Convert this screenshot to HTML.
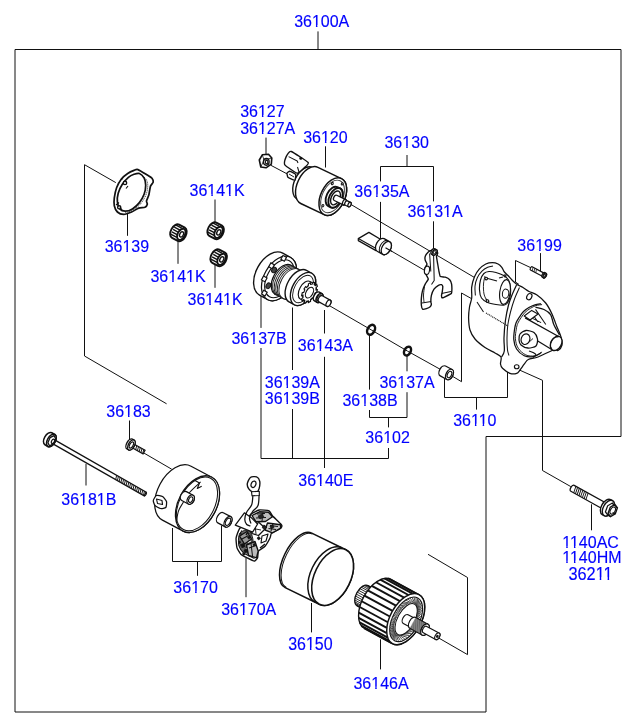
<!DOCTYPE html>
<html><head><meta charset="utf-8"><style>
html,body{margin:0;padding:0;background:#fff;}
svg{display:block;}
text{font-family:"Liberation Sans",sans-serif;font-size:16px;fill:#0000ff;stroke:#0000ff;stroke-width:0.15px;}

</style></head><body>
<svg width="636" height="727" viewBox="0 0 636 727">
<rect width="636" height="727" fill="#fff"/>

<path d="M15,49.5 H621 V436.5 H486 V712 H15 Z" fill="none" stroke="#111" stroke-width="1"/>
<g fill="none" stroke="#111" stroke-width="1">
<polyline points="318,31.4 318,49.5"/>
<polyline points="266,137.6 266,155"/>
<polyline points="325.5,146.3 325.5,167.5"/>
<polyline points="407,155 407,166.5"/>
<polyline points="380.5,181.4 380.5,166.5 433.5,166.5 433.5,201.4"/>
<polyline points="380.5,201.9 380.5,239.3"/>
<polyline points="433.5,221.3 433.5,250.7"/>
<polyline points="215,199.5 215,222"/>
<polyline points="127.5,214 127.5,235.8"/>
<polyline points="178,240.6 178,263.8"/>
<polyline points="215,264.6 215,287.8"/>
<polyline points="540.5,253.1 540.5,271"/>
<polyline points="115.8,182.6 84.5,164.7 84.5,356 166.6,403.8"/>
<polyline points="129.5,420.5 129.5,440.3"/>
<polyline points="86,463.9 86,485.5"/>
<polyline points="261,293 261,327.9"/>
<polyline points="261,348 261,458.5 388.5,458.5 388.5,448"/>
<polyline points="292.5,307.5 292.5,370"/>
<polyline points="292.5,409 292.5,458.5"/>
<polyline points="324.5,310 324.5,333.5"/>
<polyline points="324.5,356.8 324.5,468"/>
<polyline points="369.5,335 369.5,389.6"/>
<polyline points="369.5,410 369.5,417.5 407,417.5 407,392.2"/>
<polyline points="407,355 407,371.3"/>
<polyline points="388.5,417.5 388.5,427.4"/>
<polyline points="444.5,378 444.5,397.5 507.5,397.5 507.5,367.7"/>
<polyline points="476.5,397.5 476.5,409.6"/>
<polyline points="515.8,368.4 542.5,380.3 542.5,470.5 570.8,486.6"/>
<polyline points="591.5,504.3 591.5,530.3"/>
<polyline points="172.5,528 172.5,561.5 221.5,561.5 221.5,525.5"/>
<polyline points="197.5,561.5 197.5,575.8"/>
<polyline points="246,558 246,597.2"/>
<polyline points="311.5,603 311.5,632.4"/>
<polyline points="380.5,639.3 380.5,669.4"/>
<polyline points="270.7,165.2 287.3,174"/>
<polyline points="351,204.5 474.5,277.5"/>
<polyline points="386.3,248.1 424,270"/>
<polyline points="330,306 371.1,329.8 407.5,351.1 449,374.2 461.5,381.7 461.5,293 472.5,299.2"/>
<polyline points="532.5,268.5 515.5,260.5 515.5,282 519,284.5"/>
<polyline points="142.8,452.4 171.7,469.2"/>
<polyline points="437,637 467.5,654.6 467.5,577.5 428,554.3"/>
</g>
<g transform="translate(332.60,577.00) rotate(26.00)" ><path d="M-38,-30.3 L0,-30.3 A18.0,30.3 0 0 1 0,30.3 L-38,30.3 A15.0,30.3 0 0 1 -38,-30.3 Z" fill="#fff" stroke="#111" stroke-width="1.55"/><ellipse cx="0" cy="0" rx="18.0" ry="30.3" fill="#fff" stroke="#111" stroke-width="1.55"/><path d="M-37,-29.7 A14.2,29.7 0 0 0 -37,29.7" fill="none" stroke="#111" stroke-width="0.92"/><path d="M-4.3,-30.3 A18.0,30.3 0 0 0 -4.3,30.3" fill="none" stroke="#111" stroke-width="1.49"/></g>
<g transform="translate(197.50,504.20) rotate(28.00)" ><path d="M-23.5,-30.5 L0,-30.5 A19.0,30.5 0 0 1 0,30.5 L-23.5,30.5 A19.0,30.5 0 0 1 -23.5,-30.5 Z" fill="#fff" stroke="#111" stroke-width="1.26"/><ellipse cx="0" cy="0" rx="19.0" ry="30.5" fill="#fff" stroke="#111" stroke-width="1.26"/><ellipse cx="-0.6" cy="0" rx="17.5" ry="29.0" fill="none" stroke="#111" stroke-width="1.03"/></g>
<path d="M176.40,521.50 C176.75,519.75 177.40,514.12 178.50,511.00 C179.60,507.88 181.08,505.97 183.00,502.80 C184.92,499.63 187.07,495.48 190.00,492.00 C192.93,488.52 198.83,483.58 200.60,481.90" fill="none" stroke="#111" stroke-width="1.03" stroke-linejoin="round" />
<path d="M195,480.5 L199.5,483 L197.3,488.5 L201.7,486.3" fill="none" stroke="#111" stroke-width="1.15" stroke-linejoin="round" />
<g transform="translate(190.70,499.60) rotate(28.00)" ><path d="M-7.5,-5.0 L0,-5.0 A3.3,5.0 0 0 1 0,5.0 L-7.5,5.0 A3.3,5.0 0 0 1 -7.5,-5.0 Z" fill="#fff" stroke="#111" stroke-width="1.26"/><ellipse cx="0" cy="0" rx="3.3" ry="5.0" fill="#fff" stroke="#111" stroke-width="1.26"/><ellipse cx="0" cy="0" rx="1.9" ry="3.0" fill="none" stroke="#111" stroke-width="1.15"/></g>
<path d="M153.30,500.50 C153.45,499.50 155.58,495.90 156.50,495.50 C157.42,495.10 161.50,495.90 162.50,496.50 C163.50,497.10 166.17,500.40 166.50,501.50 C166.83,502.60 166.40,506.80 165.80,507.50 C165.20,508.20 161.58,508.70 160.50,508.50 C159.42,508.30 155.72,506.30 155.00,505.50 C154.28,504.70 153.15,501.50 153.30,500.50 Z" fill="#fff" stroke="#111" stroke-width="1.26" stroke-linejoin="round" />
<path d="M156.5,499 L162,500.5 L162.5,504.5 L157.5,503.5 Z" fill="none" stroke="#111" stroke-width="1.15" stroke-linejoin="round" />
<g transform="translate(228.00,521.80) rotate(28.00)" ><path d="M-8.5,-5.8 L0,-5.8 A3.4,5.8 0 0 1 0,5.8 L-8.5,5.8 A3.4,5.8 0 0 1 -8.5,-5.8 Z" fill="#fff" stroke="#111" stroke-width="1.26"/><ellipse cx="0" cy="0" rx="3.4" ry="5.8" fill="#fff" stroke="#111" stroke-width="1.26"/><ellipse cx="0" cy="0" rx="2.2" ry="3.9" fill="none" stroke="#111" stroke-width="1.15"/></g>
<g transform="translate(405.70,619.10) rotate(28.50)" ><g transform="translate(-28,0)"><path d="M-21,-11.5 L0,-11.5 A6.5,11.5 0 0 1 0,11.5 L-21,11.5 A6.5,11.5 0 0 1 -21,-11.5 Z" fill="#fff" stroke="#111" stroke-width="1.26"/><line x1="-22.1" y1="-11.3" x2="-1" y2="-11.3" stroke="#111" stroke-width="0.80"/><line x1="-23.3" y1="-10.7" x2="-1" y2="-10.7" stroke="#111" stroke-width="0.80"/><line x1="-24.4" y1="-9.8" x2="-1" y2="-9.8" stroke="#111" stroke-width="0.80"/><line x1="-25.4" y1="-8.4" x2="-1" y2="-8.4" stroke="#111" stroke-width="0.80"/><line x1="-26.3" y1="-6.8" x2="-1" y2="-6.8" stroke="#111" stroke-width="0.80"/><line x1="-26.9" y1="-4.9" x2="-1" y2="-4.9" stroke="#111" stroke-width="0.80"/><line x1="-27.3" y1="-2.8" x2="-1" y2="-2.8" stroke="#111" stroke-width="0.80"/><line x1="-27.5" y1="-0.6" x2="-1" y2="-0.6" stroke="#111" stroke-width="0.80"/><line x1="-27.4" y1="1.6" x2="-1" y2="1.6" stroke="#111" stroke-width="0.80"/><line x1="-27.1" y1="3.7" x2="-1" y2="3.7" stroke="#111" stroke-width="0.80"/><line x1="-26.6" y1="5.7" x2="-1" y2="5.7" stroke="#111" stroke-width="0.80"/><line x1="-25.9" y1="7.5" x2="-1" y2="7.5" stroke="#111" stroke-width="0.80"/><line x1="-25.0" y1="9.1" x2="-1" y2="9.1" stroke="#111" stroke-width="0.80"/><line x1="-24.0" y1="10.2" x2="-1" y2="10.2" stroke="#111" stroke-width="0.80"/><line x1="-22.8" y1="11.1" x2="-1" y2="11.1" stroke="#111" stroke-width="0.80"/><line x1="-21.6" y1="11.5" x2="-1" y2="11.5" stroke="#111" stroke-width="0.80"/></g><path d="M-32,-27.8 L0,-27.8 A15.5,27.8 0 0 1 0,27.8 L-32,27.8 A15.5,27.8 0 0 1 -32,-27.8 Z" fill="#fff" stroke="#111" stroke-width="1.38"/><line x1="-34.7" y1="-27.4" x2="-2.7" y2="-27.4" stroke="#111" stroke-width="1.95"/><line x1="-38.1" y1="-25.6" x2="-6.1" y2="-25.6" stroke="#111" stroke-width="1.95"/><line x1="-41.1" y1="-22.5" x2="-9.1" y2="-22.5" stroke="#111" stroke-width="1.95"/><line x1="-43.7" y1="-18.2" x2="-11.7" y2="-18.2" stroke="#111" stroke-width="1.95"/><line x1="-45.7" y1="-13.1" x2="-13.7" y2="-13.1" stroke="#111" stroke-width="1.95"/><line x1="-47.0" y1="-7.2" x2="-15.0" y2="-7.2" stroke="#111" stroke-width="1.95"/><line x1="-47.5" y1="-1.0" x2="-15.5" y2="-1.0" stroke="#111" stroke-width="1.95"/><line x1="-47.2" y1="5.3" x2="-15.2" y2="5.3" stroke="#111" stroke-width="1.95"/><line x1="-46.2" y1="11.3" x2="-14.2" y2="11.3" stroke="#111" stroke-width="1.95"/><line x1="-44.4" y1="16.7" x2="-12.4" y2="16.7" stroke="#111" stroke-width="1.95"/><line x1="-42.0" y1="21.3" x2="-10.0" y2="21.3" stroke="#111" stroke-width="1.95"/><line x1="-39.0" y1="24.8" x2="-7.0" y2="24.8" stroke="#111" stroke-width="1.95"/><line x1="-35.7" y1="27.0" x2="-3.7" y2="27.0" stroke="#111" stroke-width="1.95"/><line x1="-32.3" y1="27.8" x2="-0.3" y2="27.8" stroke="#111" stroke-width="1.95"/><ellipse cx="0" cy="0" rx="15.5" ry="27.8" fill="#fff" stroke="#111" stroke-width="1.49"/><ellipse cx="0.5" cy="0" rx="13.2" ry="24.3" fill="#fff" stroke="#111" stroke-width="1.15"/><line x1="12.9" y1="0.0" x2="7.9" y2="8.5" stroke="#333" stroke-width="0.80"/><line x1="12.8" y1="3.3" x2="7.2" y2="10.6" stroke="#333" stroke-width="0.80"/><line x1="12.4" y1="6.6" x2="6.4" y2="12.5" stroke="#333" stroke-width="0.80"/><line x1="11.8" y1="9.7" x2="5.5" y2="14.1" stroke="#333" stroke-width="0.80"/><line x1="10.9" y1="12.7" x2="4.4" y2="15.5" stroke="#333" stroke-width="0.80"/><line x1="9.9" y1="15.4" x2="3.3" y2="16.6" stroke="#333" stroke-width="0.80"/><line x1="8.6" y1="17.8" x2="2.1" y2="17.3" stroke="#333" stroke-width="0.80"/><line x1="7.2" y1="19.8" x2="0.8" y2="17.7" stroke="#333" stroke-width="0.80"/><line x1="5.7" y1="21.5" x2="-0.4" y2="17.8" stroke="#333" stroke-width="0.80"/><line x1="4.0" y1="22.7" x2="-1.7" y2="17.5" stroke="#333" stroke-width="0.80"/><line x1="2.2" y1="23.5" x2="-2.9" y2="16.9" stroke="#333" stroke-width="0.80"/><line x1="0.5" y1="23.9" x2="-4.0" y2="15.9" stroke="#333" stroke-width="0.80"/><line x1="-1.3" y1="23.8" x2="-5.1" y2="14.6" stroke="#333" stroke-width="0.80"/><line x1="-3.1" y1="23.2" x2="-6.1" y2="13.1" stroke="#333" stroke-width="0.80"/><line x1="-4.8" y1="22.2" x2="-7.0" y2="11.3" stroke="#333" stroke-width="0.80"/><line x1="-6.4" y1="20.7" x2="-7.7" y2="9.3" stroke="#333" stroke-width="0.80"/><line x1="-7.9" y1="18.8" x2="-8.3" y2="7.1" stroke="#333" stroke-width="0.80"/><line x1="-9.3" y1="16.6" x2="-8.7" y2="4.7" stroke="#333" stroke-width="0.80"/><line x1="-10.4" y1="14.0" x2="-8.9" y2="2.3" stroke="#333" stroke-width="0.80"/><line x1="-11.4" y1="11.2" x2="-9.0" y2="-0.2" stroke="#333" stroke-width="0.80"/><line x1="-12.1" y1="8.2" x2="-8.9" y2="-2.7" stroke="#333" stroke-width="0.80"/><line x1="-12.6" y1="5.0" x2="-8.6" y2="-5.1" stroke="#333" stroke-width="0.80"/><line x1="-12.9" y1="1.7" x2="-8.2" y2="-7.4" stroke="#333" stroke-width="0.80"/><line x1="-12.9" y1="-1.7" x2="-7.6" y2="-9.6" stroke="#333" stroke-width="0.80"/><line x1="-12.6" y1="-5.0" x2="-6.8" y2="-11.6" stroke="#333" stroke-width="0.80"/><line x1="-12.1" y1="-8.2" x2="-5.9" y2="-13.4" stroke="#333" stroke-width="0.80"/><line x1="-11.4" y1="-11.2" x2="-4.9" y2="-14.9" stroke="#333" stroke-width="0.80"/><line x1="-10.4" y1="-14.0" x2="-3.9" y2="-16.1" stroke="#333" stroke-width="0.80"/><line x1="-9.3" y1="-16.6" x2="-2.7" y2="-17.0" stroke="#333" stroke-width="0.80"/><line x1="-7.9" y1="-18.8" x2="-1.5" y2="-17.6" stroke="#333" stroke-width="0.80"/><line x1="-6.5" y1="-20.7" x2="-0.2" y2="-17.8" stroke="#333" stroke-width="0.80"/><line x1="-4.8" y1="-22.2" x2="1.0" y2="-17.7" stroke="#333" stroke-width="0.80"/><line x1="-3.1" y1="-23.2" x2="2.3" y2="-17.2" stroke="#333" stroke-width="0.80"/><line x1="-1.3" y1="-23.8" x2="3.5" y2="-16.4" stroke="#333" stroke-width="0.80"/><line x1="0.5" y1="-23.9" x2="4.6" y2="-15.3" stroke="#333" stroke-width="0.80"/><line x1="2.2" y1="-23.5" x2="5.6" y2="-13.9" stroke="#333" stroke-width="0.80"/><line x1="4.0" y1="-22.7" x2="6.5" y2="-12.2" stroke="#333" stroke-width="0.80"/><line x1="5.7" y1="-21.5" x2="7.3" y2="-10.3" stroke="#333" stroke-width="0.80"/><line x1="7.2" y1="-19.8" x2="8.0" y2="-8.2" stroke="#333" stroke-width="0.80"/><line x1="8.6" y1="-17.8" x2="8.5" y2="-5.9" stroke="#333" stroke-width="0.80"/><line x1="9.9" y1="-15.4" x2="8.8" y2="-3.5" stroke="#333" stroke-width="0.80"/><line x1="10.9" y1="-12.7" x2="9.0" y2="-1.0" stroke="#333" stroke-width="0.80"/><line x1="11.8" y1="-9.7" x2="9.0" y2="1.4" stroke="#333" stroke-width="0.80"/><line x1="12.4" y1="-6.6" x2="8.8" y2="3.9" stroke="#333" stroke-width="0.80"/><line x1="12.8" y1="-3.3" x2="8.4" y2="6.3" stroke="#333" stroke-width="0.80"/><ellipse cx="0.5" cy="0" rx="8.5" ry="17.3" fill="#fff" stroke="#111" stroke-width="1.03"/><g transform="translate(8,0)"><path d="M-8,-5 L0,-5 A3.0,5 0 0 1 0,5 L-8,5 A3.0,5 0 0 1 -8,-5 Z" fill="#fff" stroke="#111" stroke-width="1.15"/><ellipse cx="0" cy="0" rx="3.0" ry="5" fill="#fff" stroke="#111" stroke-width="1.15"/></g><g transform="translate(22,0)"><path d="M-14,-6.2 L0,-6.2 A3.6,6.2 0 0 1 0,6.2 L-14,6.2 A3.6,6.2 0 0 1 -14,-6.2 Z" fill="#fff" stroke="#111" stroke-width="1.15"/><ellipse cx="0" cy="0" rx="3.6" ry="6.2" fill="#fff" stroke="#111" stroke-width="1.15"/><line x1="-14" y1="-5.4" x2="0" y2="-5.4" stroke="#222" stroke-width="0.63"/><line x1="-14" y1="-4.5" x2="0" y2="-4.5" stroke="#222" stroke-width="0.63"/><line x1="-14" y1="-3.6" x2="0" y2="-3.6" stroke="#222" stroke-width="0.63"/><line x1="-14" y1="-2.7" x2="0" y2="-2.7" stroke="#222" stroke-width="0.63"/><line x1="-14" y1="-1.8" x2="0" y2="-1.8" stroke="#222" stroke-width="0.63"/><line x1="-14" y1="-0.9" x2="0" y2="-0.9" stroke="#222" stroke-width="0.63"/><line x1="-14" y1="0.0" x2="0" y2="0.0" stroke="#222" stroke-width="0.63"/><line x1="-14" y1="0.9" x2="0" y2="0.9" stroke="#222" stroke-width="0.63"/><line x1="-14" y1="1.8" x2="0" y2="1.8" stroke="#222" stroke-width="0.63"/><line x1="-14" y1="2.7" x2="0" y2="2.7" stroke="#222" stroke-width="0.63"/><line x1="-14" y1="3.6" x2="0" y2="3.6" stroke="#222" stroke-width="0.63"/><line x1="-14" y1="4.5" x2="0" y2="4.5" stroke="#222" stroke-width="0.63"/><line x1="-14" y1="5.4" x2="0" y2="5.4" stroke="#222" stroke-width="0.63"/><ellipse cx="0" cy="0" rx="3.6" ry="6.2" fill="#fff" stroke="#111" stroke-width="1.15"/></g><g transform="translate(36,0)"><path d="M-14,-3.6 L0,-3.6 A2.2,3.6 0 0 1 0,3.6 L-14,3.6 A2.2,3.6 0 0 1 -14,-3.6 Z" fill="#fff" stroke="#111" stroke-width="1.15"/><ellipse cx="0" cy="0" rx="2.2" ry="3.6" fill="#fff" stroke="#111" stroke-width="1.15"/><ellipse cx="0" cy="0" rx="0.7" ry="1.0" fill="#111" stroke="#111" stroke-width="1.15"/></g></g>
<g transform="translate(332.80,196.60) rotate(25.50)" ><g transform="translate(-26,0)"><path d="M-5,-17.5 L0,-17.5 A10.5,17.5 0 0 1 0,17.5 L-5,17.5 A10.5,17.5 0 0 1 -5,-17.5 Z" fill="#fff" stroke="#111" stroke-width="1.38"/><ellipse cx="0" cy="0" rx="10.5" ry="17.5" fill="#fff" stroke="#111" stroke-width="1.38"/></g><path d="M-26,-20 L0,-20 A12,20 0 0 1 0,20 L-26,20 A12,20 0 0 1 -26,-20 Z" fill="#fff" stroke="#111" stroke-width="1.49"/><ellipse cx="0" cy="0" rx="12" ry="20" fill="#fff" stroke="#111" stroke-width="1.49"/><ellipse cx="-0.3" cy="0" rx="10.2" ry="17.4" fill="none" stroke="#333" stroke-width="0.92"/><g transform="translate(3,0)"><path d="M-3,-10.5 L0,-10.5 A6.2,10.5 0 0 1 0,10.5 L-3,10.5 A6.2,10.5 0 0 1 -3,-10.5 Z" fill="#fff" stroke="#111" stroke-width="1.84"/><ellipse cx="0" cy="0" rx="6.2" ry="10.5" fill="#fff" stroke="#111" stroke-width="1.84"/><ellipse cx="0" cy="0" rx="4.2" ry="7.4" fill="none" stroke="#111" stroke-width="1.38"/></g><ellipse cx="-6" cy="-11.5" rx="0.9" ry="1.2" fill="#fff" stroke="#111" stroke-width="1.03"/><ellipse cx="-5" cy="12.5" rx="0.9" ry="1.2" fill="#fff" stroke="#111" stroke-width="1.03"/><ellipse cx="3" cy="-15.5" rx="0.9" ry="1.2" fill="#fff" stroke="#111" stroke-width="1.03"/><g transform="translate(13,0)"><path d="M-10,-2.9 L0,-2.9 A1.8,2.9 0 0 1 0,2.9 L-10,2.9 A1.8,2.9 0 0 1 -10,-2.9 Z" fill="#fff" stroke="#111" stroke-width="1.26"/><ellipse cx="0" cy="0" rx="1.8" ry="2.9" fill="#fff" stroke="#111" stroke-width="1.26"/></g><g transform="translate(18.5,0)"><path d="M-3.5,-2.4 L0,-2.4 A1.4,2.4 0 0 1 0,2.4 L-3.5,2.4 A1.4,2.4 0 0 1 -3.5,-2.4 Z" fill="#fff" stroke="#111" stroke-width="1.26"/><ellipse cx="0" cy="0" rx="1.4" ry="2.4" fill="#fff" stroke="#111" stroke-width="1.26"/></g></g>
<path d="M287.80,153.90 C288.23,153.47 289.60,150.78 291.30,151.50 C293.00,152.22 307.14,161.12 308.20,162.50 C309.26,163.88 304.92,167.11 304.00,168.00 C303.08,168.89 298.65,173.32 297.20,173.20 C295.75,173.07 287.65,167.22 286.60,166.50 C285.55,165.78 284.77,164.93 284.60,164.50 C284.43,164.07 284.47,162.06 284.60,161.40 C284.73,160.74 285.93,157.22 286.20,156.60 C286.47,155.97 287.38,154.33 287.80,153.90 Z" fill="#fff" stroke="#111" stroke-width="1.38" stroke-linejoin="round" />
<path d="M288.6,156.6 L297.2,161 L298,163 M297.5,167 L299,172" fill="none" stroke="#111" stroke-width="1.03" stroke-linejoin="round" />
<ellipse cx="300.8" cy="158.2" rx="1.0" ry="1.0" fill="#111" stroke="#111" stroke-width="1.15"/>
<path d="M287.00,173.20 C287.13,172.81 289.22,171.13 289.80,171.20 C290.38,171.27 295.36,173.70 295.70,174.30 C296.04,174.90 295.25,179.91 294.90,180.20 C294.55,180.49 290.97,178.91 290.50,178.70 C290.03,178.49 288.03,177.47 287.80,177.10 C287.57,176.73 286.87,173.59 287.00,173.20 Z" fill="#fff" stroke="#111" stroke-width="1.38" stroke-linejoin="round" />
<path d="M289,174 L294,177" fill="none" stroke="#111" stroke-width="0.92" stroke-linejoin="round" />
<path d="M259.3,160 L262.3,154.8 L268.5,154.3 L271.8,158 L271.3,164.2 L266,167.8 L260.8,167 Z" fill="#fff" stroke="#111" stroke-width="1.61" stroke-linejoin="round" />
<ellipse cx="266.3" cy="161.8" rx="2.8" ry="3.4" fill="none" stroke="#111" stroke-width="1.38"/>
<ellipse cx="266.6" cy="162.0" rx="1.3" ry="1.7" fill="none" stroke="#111" stroke-width="1.15"/>
<path d="M262.3,154.8 L264,160 L260.8,167 M264,160 L271.8,158" fill="none" stroke="#111" stroke-width="0.80" stroke-linejoin="round" />
<path d="M137.90,169.60 C139.45,170.15 145.66,174.10 147.30,175.10 C148.95,176.10 151.31,177.37 152.00,178.20 C152.69,179.03 153.38,181.28 153.20,182.20 C153.02,183.12 151.00,184.64 150.50,186.10 C150.00,187.56 149.37,192.96 148.90,194.70 C148.43,196.44 146.69,199.89 146.50,201.00 C146.31,202.11 147.48,203.46 147.30,204.20 C147.12,204.94 146.00,206.84 145.00,207.30 C144.00,207.76 140.26,207.55 138.70,208.10 C137.14,208.65 133.35,211.26 131.60,212.00 C129.85,212.74 125.36,214.40 123.70,214.40 C122.04,214.40 118.50,213.02 117.40,212.00 C116.30,210.98 114.66,207.34 114.30,205.70 C113.94,204.05 114.03,200.00 114.30,197.90 C114.57,195.80 115.77,189.91 116.60,187.70 C117.43,185.49 120.11,180.66 121.40,179.00 C122.70,177.34 126.23,174.50 127.70,173.50 C129.17,172.50 132.81,170.86 134.00,170.40 C135.19,169.94 136.35,169.05 137.90,169.60 Z" fill="#fff" stroke="#111" stroke-width="1.72" stroke-linejoin="round" />
<path d="M139.40,173.50 C140.93,174.09 143.25,176.43 144.20,178.20 C145.14,179.97 145.70,182.93 145.70,185.30 C145.70,187.67 145.14,191.41 144.20,194.00 C143.25,196.59 141.17,200.36 139.40,202.60 C137.63,204.84 134.52,207.61 132.40,208.90 C130.28,210.19 127.19,211.20 125.30,211.20 C123.41,211.20 120.98,210.31 119.80,208.90 C118.61,207.49 117.64,204.16 117.40,201.80 C117.16,199.45 117.48,195.79 118.20,193.20 C118.92,190.60 120.67,186.87 122.20,184.50 C123.73,182.13 126.63,178.93 128.40,177.40 C130.17,175.87 132.35,174.89 134.00,174.30 C135.65,173.72 137.87,172.91 139.40,173.50 Z" fill="#fff" stroke="#111" stroke-width="1.72" stroke-linejoin="round" />
<path d="M141.50,174.50 C142.42,175.58 146.00,178.58 147.00,181.00 C148.00,183.42 147.83,186.33 147.50,189.00 C147.17,191.67 146.25,194.42 145.00,197.00 C143.75,199.58 142.00,202.33 140.00,204.50 C138.00,206.67 135.58,208.58 133.00,210.00 C130.42,211.42 125.92,212.50 124.50,213.00" fill="none" stroke="#111" stroke-width="0.92" stroke-linejoin="round" stroke-dasharray="1 1"/>
<ellipse cx="125" cy="182.9" rx="1.7" ry="1.7" fill="#fff" stroke="#111" stroke-width="1.38"/>
<ellipse cx="119.2" cy="207.3" rx="1.6" ry="1.6" fill="#fff" stroke="#111" stroke-width="1.38"/>
<path d="M121,179.5 l2,-1 M128,186 l-2,2.5 M116,205 l3,-2.5 M122,210 l-2,-3" fill="none" stroke="#111" stroke-width="1.15" stroke-linejoin="round" />
<g transform="translate(181.30,234.30) rotate(28.00)" ><path d="M-6.5,-7.5 L0,-7.5 A4.6,7.5 0 0 1 0,7.5 L-6.5,7.5 A4.6,7.5 0 0 1 -6.5,-7.5 Z" fill="#fff" stroke="#111" stroke-width="1.95"/><line x1="-9.5" y1="-5.6" x2="-2.5" y2="-5.6" stroke="#111" stroke-width="1.44"/><line x1="-9.5" y1="-3.0" x2="-2.5" y2="-3.0" stroke="#111" stroke-width="1.44"/><line x1="-9.5" y1="-0.4" x2="-2.5" y2="-0.4" stroke="#111" stroke-width="1.44"/><line x1="-9.5" y1="2.2" x2="-2.5" y2="2.2" stroke="#111" stroke-width="1.44"/><line x1="-9.5" y1="4.8" x2="-2.5" y2="4.8" stroke="#111" stroke-width="1.44"/><ellipse cx="0" cy="0" rx="3.6" ry="6.0" fill="#fff" stroke="#111" stroke-width="1.84"/><ellipse cx="0.3" cy="0" rx="1.8" ry="2.8" fill="none" stroke="#111" stroke-width="1.38"/></g>
<g transform="translate(218.50,232.30) rotate(28.00)" ><path d="M-6.5,-7.5 L0,-7.5 A4.6,7.5 0 0 1 0,7.5 L-6.5,7.5 A4.6,7.5 0 0 1 -6.5,-7.5 Z" fill="#fff" stroke="#111" stroke-width="1.95"/><line x1="-9.5" y1="-5.6" x2="-2.5" y2="-5.6" stroke="#111" stroke-width="1.44"/><line x1="-9.5" y1="-3.0" x2="-2.5" y2="-3.0" stroke="#111" stroke-width="1.44"/><line x1="-9.5" y1="-0.4" x2="-2.5" y2="-0.4" stroke="#111" stroke-width="1.44"/><line x1="-9.5" y1="2.2" x2="-2.5" y2="2.2" stroke="#111" stroke-width="1.44"/><line x1="-9.5" y1="4.8" x2="-2.5" y2="4.8" stroke="#111" stroke-width="1.44"/><ellipse cx="0" cy="0" rx="3.6" ry="6.0" fill="#fff" stroke="#111" stroke-width="1.84"/><ellipse cx="0.3" cy="0" rx="1.8" ry="2.8" fill="none" stroke="#111" stroke-width="1.38"/></g>
<g transform="translate(221.50,259.30) rotate(28.00)" ><path d="M-6.5,-7.5 L0,-7.5 A4.6,7.5 0 0 1 0,7.5 L-6.5,7.5 A4.6,7.5 0 0 1 -6.5,-7.5 Z" fill="#fff" stroke="#111" stroke-width="1.95"/><line x1="-9.5" y1="-5.6" x2="-2.5" y2="-5.6" stroke="#111" stroke-width="1.44"/><line x1="-9.5" y1="-3.0" x2="-2.5" y2="-3.0" stroke="#111" stroke-width="1.44"/><line x1="-9.5" y1="-0.4" x2="-2.5" y2="-0.4" stroke="#111" stroke-width="1.44"/><line x1="-9.5" y1="2.2" x2="-2.5" y2="2.2" stroke="#111" stroke-width="1.44"/><line x1="-9.5" y1="4.8" x2="-2.5" y2="4.8" stroke="#111" stroke-width="1.44"/><ellipse cx="0" cy="0" rx="3.6" ry="6.0" fill="#fff" stroke="#111" stroke-width="1.84"/><ellipse cx="0.3" cy="0" rx="1.8" ry="2.8" fill="none" stroke="#111" stroke-width="1.38"/></g>
<g transform="translate(279.00,278.50) rotate(29.00)" ><path d="M-9,-24 L0,-24 A15,24 0 0 1 0,24 L-9,24 A15,24 0 0 1 -9,-24 Z" fill="#fff" stroke="#111" stroke-width="1.38"/><ellipse cx="0" cy="0" rx="15" ry="24" fill="#fff" stroke="#111" stroke-width="1.26"/><ellipse cx="0.5" cy="0" rx="12.5" ry="20.5" fill="#fff" stroke="#111" stroke-width="1.15"/><rect x="-7.7" y="-22.1" width="4" height="4.4" fill="#fff" stroke="#111" stroke-width="1.15"/><rect x="-14.7" y="-9.7" width="4" height="4.4" fill="#fff" stroke="#111" stroke-width="1.15"/><rect x="-14.7" y="5.3" width="4" height="4.4" fill="#fff" stroke="#111" stroke-width="1.15"/><rect x="-7.7" y="17.7" width="4" height="4.4" fill="#fff" stroke="#111" stroke-width="1.15"/><ellipse cx="4.5" cy="-13.0" rx="2.2" ry="3" fill="#444" stroke="#111" stroke-width="0.92"/><ellipse cx="9.0" cy="0.0" rx="2.2" ry="3" fill="#444" stroke="#111" stroke-width="0.92"/><ellipse cx="4.5" cy="13.0" rx="2.2" ry="3" fill="#444" stroke="#111" stroke-width="0.92"/><ellipse cx="-5.8" cy="11.5" rx="2.2" ry="3" fill="#444" stroke="#111" stroke-width="0.92"/><ellipse cx="-8.5" cy="-5.1" rx="2.2" ry="3" fill="#444" stroke="#111" stroke-width="0.92"/></g><g transform="translate(291.00,284.00) rotate(29.00)" ><path d="M-9,-16.5 L0,-16.5 A10,16.5 0 0 1 0,16.5 L-9,16.5 A10,16.5 0 0 1 -9,-16.5 Z" fill="#fff" stroke="#111" stroke-width="1.26"/><path d="M-7.5,-16.5 A10,16.5 0 0 0 -7.5,16.5" fill="none" stroke="#222" stroke-width="0.92"/><path d="M-5.7,-16.5 A10,16.5 0 0 0 -5.7,16.5" fill="none" stroke="#222" stroke-width="0.92"/><path d="M-3.9,-16.5 A10,16.5 0 0 0 -3.9,16.5" fill="none" stroke="#222" stroke-width="0.92"/><path d="M-2.1,-16.5 A10,16.5 0 0 0 -2.1,16.5" fill="none" stroke="#222" stroke-width="0.92"/><path d="M-0.3,-16.5 A10,16.5 0 0 0 -0.3,16.5" fill="none" stroke="#222" stroke-width="0.92"/></g><g transform="translate(303.00,289.00) rotate(29.00)" ><path d="M-6,-18 L0,-18 A10.5,18 0 0 1 0,18 L-6,18 A10.5,18 0 0 1 -6,-18 Z" fill="#fff" stroke="#111" stroke-width="1.38"/><ellipse cx="0" cy="0" rx="10.5" ry="18" fill="#fff" stroke="#111" stroke-width="1.38"/></g><g transform="translate(303.00,289.00) rotate(29.00)" ><ellipse cx="0" cy="0" rx="8.5" ry="15" fill="none" stroke="#111" stroke-width="0.92"/></g><g transform="translate(309.50,292.60) rotate(29.00)" ><path d="M-5,-10 L0,-10 A5.6,10 0 0 1 0,10 L-5,10 A5.6,10 0 0 1 -5,-10 Z" fill="#fff" stroke="#111" stroke-width="1.15"/><line x1="-5" y1="-8" x2="0" y2="-8" stroke="#111" stroke-width="1.03"/><line x1="-5" y1="-5" x2="0" y2="-5" stroke="#111" stroke-width="1.03"/><line x1="-5" y1="-2" x2="0" y2="-2" stroke="#111" stroke-width="1.03"/><line x1="-5" y1="1" x2="0" y2="1" stroke="#111" stroke-width="1.03"/><line x1="-5" y1="4" x2="0" y2="4" stroke="#111" stroke-width="1.03"/><line x1="-5" y1="7" x2="0" y2="7" stroke="#111" stroke-width="1.03"/><polygon points="5.40,0.04 6.58,0.51 6.28,3.44 5.08,3.17 4.35,5.56 5.15,7.15 3.92,9.21 3.04,7.77 1.65,8.95 1.75,11.05 0.06,11.47 -0.16,9.40 -1.69,8.93 -2.31,10.74 -3.82,9.34 -3.31,7.43 -4.38,5.49 -5.50,6.32 -6.25,3.65 -5.18,2.63 -5.40,-0.04 -6.58,-0.51 -6.28,-3.44 -5.08,-3.17 -4.35,-5.56 -5.15,-7.15 -3.92,-9.21 -3.04,-7.77 -1.65,-8.95 -1.75,-11.05 -0.06,-11.47 0.16,-9.40 1.69,-8.93 2.31,-10.74 3.82,-9.34 3.31,-7.43 4.38,-5.49 5.50,-6.32 6.25,-3.65 5.18,-2.63" fill="#fff" stroke="#111" stroke-width="1.15"/><ellipse cx="0" cy="0" rx="3.4" ry="5.8" fill="#fff" stroke="#111" stroke-width="1.15"/></g><g transform="translate(319.50,298.00) rotate(29.00)" ><path d="M-3,-5.0 L0,-5.0 A3.0,5.0 0 0 1 0,5.0 L-3,5.0 A3.0,5.0 0 0 1 -3,-5.0 Z" fill="#fff" stroke="#111" stroke-width="1.49"/><ellipse cx="0" cy="0" rx="3.0" ry="5.0" fill="#fff" stroke="#111" stroke-width="1.49"/><ellipse cx="0" cy="0" rx="2.1" ry="3.4" fill="none" stroke="#111" stroke-width="1.15"/></g><g transform="translate(328.50,303.20) rotate(29.00)" ><path d="M-9,-3.5 L0,-3.5 A2.1,3.5 0 0 1 0,3.5 L-9,3.5 A2.1,3.5 0 0 1 -9,-3.5 Z" fill="#fff" stroke="#111" stroke-width="1.26"/><ellipse cx="0" cy="0" rx="2.1" ry="3.5" fill="#fff" stroke="#111" stroke-width="1.26"/></g>
<path d="M358.3,238.6 L368.9,232.4 L380,239 L377,249 L376,250.6 L358.3,240.6 Z" fill="#fff" stroke="#111" stroke-width="1.26" stroke-linejoin="round" />
<path d="M358.3,238.6 L377,249" fill="none" stroke="#111" stroke-width="1.15" stroke-linejoin="round" />
<g transform="translate(386.30,248.10) rotate(29.00)" ><path d="M-6.5,-7.2 L0,-7.2 A4.3,7.2 0 0 1 0,7.2 L-6.5,7.2 A4.3,7.2 0 0 1 -6.5,-7.2 Z" fill="#fff" stroke="#111" stroke-width="1.32"/><ellipse cx="0" cy="0" rx="4.3" ry="7.2" fill="#fff" stroke="#111" stroke-width="1.32"/><path d="M-2.2,-7.2 A4.3,7.2 0 0 0 -2.2,7.2" fill="none" stroke="#111" stroke-width="1.03"/></g>
<path d="M385.5,247.8 L392,251.5" fill="none" stroke="#111" stroke-width="1.15" stroke-linejoin="round" />
<path d="M428.30,252.00 C428.76,251.58 431.55,250.24 432.10,250.10 C432.65,249.96 436.13,249.69 436.50,249.90 C436.87,250.11 437.70,252.87 437.70,253.30 C437.70,253.73 436.50,255.69 436.50,256.40 C436.50,257.11 437.53,262.99 437.70,264.00 C437.87,265.01 438.83,270.67 439.00,271.50 C439.17,272.33 439.88,276.12 440.30,276.50 C440.72,276.88 444.67,276.99 445.30,277.20 C445.93,277.41 449.28,279.24 449.70,279.70 C450.12,280.16 451.47,283.22 451.60,284.10 C451.73,284.98 451.69,292.23 451.60,292.90 C451.51,293.57 450.81,293.91 450.30,294.20 C449.79,294.49 444.55,297.05 444.00,297.30 C443.45,297.55 442.27,298.03 442.10,297.90 C441.93,297.77 441.50,295.73 441.50,295.40 C441.50,295.07 442.01,293.49 442.10,292.90 C442.19,292.31 442.84,287.15 442.80,286.60 C442.76,286.05 441.79,284.79 441.50,284.70 C441.21,284.61 438.90,285.01 438.40,285.30 C437.90,285.59 434.47,288.43 434.00,289.10 C433.53,289.77 431.61,294.56 431.40,295.40 C431.19,296.24 430.80,301.11 430.80,301.70 C430.80,302.29 431.44,303.87 431.40,304.20 C431.36,304.53 430.53,306.41 430.20,306.70 C429.87,306.99 426.91,308.43 426.40,308.60 C425.89,308.77 422.93,309.41 422.60,309.20 C422.27,308.99 421.48,306.25 421.40,305.50 C421.32,304.75 421.32,298.91 421.40,297.90 C421.48,296.89 422.35,291.32 422.60,290.40 C422.85,289.48 424.82,284.85 425.20,284.10 C425.58,283.35 428.26,279.77 428.30,279.10 C428.34,278.43 426.05,274.67 425.80,274.00 C425.55,273.33 424.50,269.50 424.50,269.00 C424.50,268.50 425.63,266.83 425.80,266.50 C425.97,266.17 427.04,264.42 427.00,264.00 C426.96,263.58 425.32,260.71 425.20,260.20 C425.08,259.69 424.99,256.95 425.20,256.40 C425.41,255.85 427.84,252.42 428.30,252.00 Z" fill="#fff" stroke="#111" stroke-width="1.38" stroke-linejoin="round" />
<path d="M422,303 L431.2,301.5 M441.5,293.6 L451,291.5 M429.6,253.5 L430.8,271.5 M433.6,256 L434.2,280.5 L431.5,284.5" fill="none" stroke="#111" stroke-width="1.03" stroke-linejoin="round" />
<path d="M424.50,286.50 C424.33,287.92 423.58,292.42 423.50,295.00 C423.42,297.58 423.92,300.83 424.00,302.00" fill="none" stroke="#111" stroke-width="0.92" stroke-linejoin="round" />
<g transform="translate(427.00,270.30) rotate(10.00)" ><ellipse cx="0" cy="0" rx="2.5" ry="4.2" fill="#fff" stroke="#111" stroke-width="1.15"/></g>
<g transform="translate(434.60,252.30) rotate(29.00)" ><path d="M-1.5,-3.2 L0,-3.2 A2.0,3.2 0 0 1 0,3.2 L-1.5,3.2 A2.0,3.2 0 0 1 -1.5,-3.2 Z" fill="#fff" stroke="#111" stroke-width="1.26"/><ellipse cx="0" cy="0" rx="2.0" ry="3.2" fill="#fff" stroke="#111" stroke-width="1.26"/><ellipse cx="0" cy="0" rx="1.1" ry="2.0" fill="none" stroke="#111" stroke-width="0.92"/></g>
<g transform="translate(371.10,329.80) rotate(28.00)" ><ellipse cx="0" cy="0" rx="3.5" ry="5.3" fill="none" stroke="#111" stroke-width="2.53"/></g>
<g transform="translate(407.50,351.10) rotate(28.00)" ><ellipse cx="0" cy="0" rx="3.1" ry="4.7" fill="none" stroke="#111" stroke-width="2.53"/></g>
<g transform="translate(449.50,374.50) rotate(28.00)" ><path d="M-7.5,-5.6 L0,-5.6 A3.4,5.6 0 0 1 0,5.6 L-7.5,5.6 A3.4,5.6 0 0 1 -7.5,-5.6 Z" fill="#fff" stroke="#111" stroke-width="1.26"/><ellipse cx="0" cy="0" rx="3.4" ry="5.6" fill="#fff" stroke="#111" stroke-width="1.26"/><ellipse cx="0" cy="0" rx="2.0" ry="3.4" fill="none" stroke="#111" stroke-width="1.15"/></g>
<path d="M471.70,298.00 C472.03,295.01 471.28,290.28 471.70,287.10 C472.12,283.92 473.38,279.49 474.50,276.80 C475.62,274.12 477.50,271.12 479.20,269.20 C480.89,267.28 483.82,264.99 485.80,264.00 C487.78,263.01 490.55,262.60 492.40,262.60 C494.25,262.60 496.69,263.30 498.10,264.00 C499.51,264.70 500.92,266.18 501.80,267.30 C502.69,268.43 503.07,270.27 504.00,271.50 C504.93,272.73 506.80,274.23 508.00,275.50 C509.20,276.77 510.65,278.65 512.00,280.00 C513.35,281.35 515.35,283.38 517.00,284.50 C518.65,285.62 521.20,286.45 523.00,287.50 C524.80,288.55 526.90,290.38 529.00,291.50 C531.10,292.62 534.50,293.27 537.00,295.00 C539.50,296.73 543.45,300.15 545.70,303.00 C547.95,305.85 550.31,310.40 552.00,314.00 C553.69,317.60 555.65,323.55 557.00,327.00 C558.35,330.45 560.25,334.30 561.00,337.00 C561.75,339.70 562.45,342.98 562.00,345.00 C561.55,347.02 559.31,349.75 558.00,350.50 C556.69,351.25 556.30,349.02 553.30,350.00 C550.30,350.98 541.75,355.57 538.00,357.00 C534.25,358.43 530.37,358.42 528.30,359.50 C526.23,360.58 525.45,362.62 524.20,364.20 C522.96,365.77 521.12,368.63 520.00,370.00 C518.88,371.37 518.20,372.81 516.70,373.30 C515.20,373.80 512.13,374.05 510.00,373.30 C507.87,372.55 503.93,369.69 502.50,368.30 C501.07,366.91 500.73,365.69 500.50,364.00 C500.27,362.31 501.82,358.65 501.00,357.00 C500.18,355.35 497.40,354.43 495.00,353.00 C492.60,351.57 488.00,349.60 485.00,347.50 C482.00,345.40 477.25,341.62 475.00,339.00 C472.75,336.38 470.96,333.15 470.00,330.00 C469.04,326.85 468.68,321.45 468.60,318.00 C468.53,314.55 469.04,310.00 469.50,307.00 C469.96,304.00 471.37,300.99 471.70,298.00 Z" fill="#fff" stroke="#111" stroke-width="1.26" stroke-linejoin="round" />
<path d="M475.40,295.60 C475.33,294.03 474.68,289.18 475.00,286.20 C475.32,283.22 476.13,280.22 477.30,277.70 C478.47,275.18 480.27,272.83 482.00,271.10 C483.73,269.37 485.87,268.15 487.70,267.30 C489.53,266.45 492.12,266.22 493.00,266.00" fill="none" stroke="#111" stroke-width="1.03" stroke-linejoin="round" />
<path d="M483.90,273.50 C485.03,272.37 487.39,271.63 489.00,271.50 C490.61,271.37 494.04,271.97 496.00,272.50 C497.96,273.03 502.03,274.50 503.70,275.50 C505.37,276.50 507.59,278.33 508.50,280.00 C509.41,281.67 510.30,285.73 510.50,288.00 C510.70,290.27 510.47,294.93 510.00,297.00 C509.53,299.07 507.84,302.41 507.00,303.50 C506.16,304.59 505.17,305.07 503.70,305.20 C502.23,305.33 498.13,304.86 496.00,304.50 C493.87,304.14 489.63,303.37 487.70,302.50 C485.77,301.63 482.59,299.67 481.50,298.00 C480.41,296.33 479.63,292.40 479.50,290.00 C479.37,287.60 479.91,282.20 480.50,280.00 C481.09,277.80 482.77,274.63 483.90,273.50 Z" fill="#fff" stroke="#111" stroke-width="1.15" stroke-linejoin="round" />
<path d="M485.00,276.00 C484.75,277.33 483.67,281.00 483.50,284.00 C483.33,287.00 483.42,291.17 484.00,294.00 C484.58,296.83 486.50,299.83 487.00,301.00" fill="none" stroke="#111" stroke-width="0.92" stroke-linejoin="round" />
<g transform="translate(505.00,292.00) rotate(8.00)" ><ellipse cx="0" cy="0" rx="5.2" ry="12.5" fill="#fff" stroke="#111" stroke-width="1.15"/></g>
<g transform="translate(505.60,293.70) rotate(8.00)" ><ellipse cx="0" cy="0" rx="3.2" ry="4.6" fill="none" stroke="#111" stroke-width="1.03"/></g>
<path d="M486,278 L497,281 M499,278 L503,277 M486,299 l3,3" fill="none" stroke="#111" stroke-width="1.26" stroke-linejoin="round" />
<ellipse cx="486.2" cy="278.5" rx="1.3" ry="1.3" fill="#fff" stroke="#111" stroke-width="1.15"/><ellipse cx="487.5" cy="301" rx="1.3" ry="1.3" fill="#fff" stroke="#111" stroke-width="1.15"/><ellipse cx="505" cy="275.8" rx="1.0" ry="1.0" fill="#fff" stroke="#111" stroke-width="1.15"/>
<path d="M477,302 L483.5,312" fill="none" stroke="#111" stroke-width="1.03" stroke-linejoin="round" />
<path d="M486,313 L508,326" fill="none" stroke="#111" stroke-width="1.15" stroke-linejoin="round" stroke-dasharray="1 0.8"/>
<path d="M516.50,285.00 C515.75,286.67 513.33,291.67 512.00,295.00 C510.67,298.33 509.58,300.83 508.50,305.00 C507.42,309.17 506.25,314.55 505.50,320.00 C504.75,325.45 504.20,332.53 504.00,337.70 C503.80,342.87 504.72,347.78 504.30,351.00 C503.88,354.22 501.97,356.00 501.50,357.00" fill="none" stroke="#111" stroke-width="1.26" stroke-linejoin="round" />
<path d="M519.50,287.50 C518.67,289.42 516.00,294.92 514.50,299.00 C513.00,303.08 511.62,307.67 510.50,312.00 C509.38,316.33 508.38,320.67 507.80,325.00 C507.22,329.33 507.05,333.83 507.00,338.00 C506.95,342.17 507.17,347.08 507.50,350.00 C507.83,352.92 508.75,354.58 509.00,355.50" fill="none" stroke="#111" stroke-width="1.03" stroke-linejoin="round" />
<path d="M541.10,303.80 C540.08,303.97 537.03,304.18 535.00,304.80 C532.97,305.42 530.82,306.38 528.90,307.50 C526.98,308.62 525.08,309.92 523.50,311.50 C521.92,313.08 520.62,315.17 519.40,317.00 C518.18,318.83 516.98,320.62 516.20,322.50 C515.42,324.38 515.10,325.45 514.70,328.30 C514.30,331.15 513.48,336.15 513.80,339.60 C514.12,343.05 514.87,346.32 516.60,349.00 C518.33,351.68 521.37,354.43 524.20,355.70 C527.03,356.97 530.78,357.08 533.60,356.60 C536.42,356.12 539.85,353.43 541.10,352.80" fill="none" stroke="#111" stroke-width="1.26" stroke-linejoin="round" />
<path d="M542.06,304.60 C541.04,304.77 537.89,304.98 535.96,305.60 C534.03,306.22 532.31,307.18 530.50,308.30 C528.69,309.42 526.68,310.72 525.10,312.30 C523.52,313.88 522.22,315.97 521.00,317.80 C519.78,319.63 518.58,321.42 517.80,323.30 C517.02,325.18 516.70,326.52 516.30,329.10 C515.90,331.68 515.08,335.62 515.40,338.80 C515.72,341.98 516.47,345.52 518.20,348.20 C519.93,350.88 523.07,353.63 525.80,354.90 C528.53,356.17 531.85,356.28 534.56,355.80 C537.27,355.32 540.81,352.63 542.06,352.00" fill="none" stroke="#111" stroke-width="0.92" stroke-linejoin="round" />
<path d="M535.50,307.20 C536.92,307.58 541.48,308.27 544.00,309.50 C546.52,310.73 548.97,312.10 550.60,314.60 C552.23,317.10 552.32,321.10 553.80,324.50 C555.28,327.90 558.55,333.25 559.50,335.00" fill="none" stroke="#111" stroke-width="1.26" stroke-linejoin="round" />
<path d="M535.5,309.4 L545.8,324.5 M526,315.1 L541.1,322.6 M531,312 L538,322" fill="none" stroke="#111" stroke-width="1.03" stroke-linejoin="round" />
<path d="M525.1,317.9 L559.5,337" fill="none" stroke="#111" stroke-width="1.26" stroke-linejoin="round" />
<path d="M523,332 L552.5,350" fill="none" stroke="#111" stroke-width="1.26" stroke-linejoin="round" />
<path d="M524.2,316 L531.7,310.4 L538,314 L530,320 Z" fill="#fff" stroke="#111" stroke-width="1.15" stroke-linejoin="round" />
<g transform="translate(556.20,343.40) rotate(29.00)" ><ellipse cx="0" cy="0" rx="5.2" ry="7.6" fill="#fff" stroke="#111" stroke-width="1.38"/></g>
<g transform="translate(555.20,342.90) rotate(29.00)" ><path d="M0,-6.6 A4.4,6.6 0 0 0 0,6.6" fill="none" stroke="#111" stroke-width="0.92"/></g>
<path d="M520.00,334.00 C520.93,332.73 524.13,330.70 526.00,330.50 C527.87,330.30 532.47,331.37 534.00,332.50 C535.53,333.63 537.23,337.20 537.50,339.00 C537.77,340.80 537.27,344.80 536.00,346.00 C534.73,347.20 530.00,348.13 528.00,348.00 C526.00,347.87 522.20,346.07 521.00,345.00 C519.80,343.93 519.13,341.47 519.00,340.00 C518.87,338.53 519.07,335.27 520.00,334.00 Z" fill="#fff" stroke="#111" stroke-width="1.26" stroke-linejoin="round" />
<g transform="translate(525.50,339.20) rotate(20.00)" ><ellipse cx="0" cy="0" rx="4.3" ry="5.4" fill="#fff" stroke="#111" stroke-width="1.15"/></g>
<path d="M527,344 L533,338.5" fill="none" stroke="#111" stroke-width="0.92" stroke-linejoin="round" />
<path d="M529.00,351.00 C529.67,351.25 531.83,351.83 533.00,352.50 C534.17,353.17 536.00,354.17 536.00,355.00 C536.00,355.83 533.50,357.08 533.00,357.50" fill="none" stroke="#111" stroke-width="1.15" stroke-linejoin="round" />
<g transform="translate(529.30,296.70) rotate(29.00)" ><ellipse cx="0" cy="0" rx="2.4" ry="3.3" fill="none" stroke="#111" stroke-width="1.15"/></g>
<ellipse cx="516.7" cy="366.7" rx="2.3" ry="2.0" fill="none" stroke="#111" stroke-width="1.15"/>
<path d="M239.40,528.90 C238.58,530.23 236.30,536.42 236.10,538.00 C235.90,539.58 236.58,546.52 237.00,547.90 C237.42,549.27 240.28,553.67 241.10,554.50 C241.92,555.33 245.80,557.25 246.90,557.80 C248.00,558.35 253.41,561.10 254.30,561.10 C255.19,561.10 257.26,558.62 257.60,557.80 C257.94,556.97 257.78,552.16 258.40,551.20 C259.02,550.24 264.03,547.40 265.00,546.30 C265.97,545.20 269.45,539.10 270.00,538.00 C270.55,536.90 270.71,533.93 271.60,533.10 C272.49,532.27 279.88,528.79 280.70,528.10 C281.52,527.41 282.19,525.83 281.50,524.80 C280.81,523.77 273.43,516.87 272.40,515.70 C271.37,514.53 270.20,511.28 269.10,510.80 C268.00,510.32 260.71,509.73 259.20,510.00 C257.69,510.27 252.10,513.10 251.00,514.10 C249.90,515.10 246.97,520.77 246.00,522.00 C245.03,523.23 240.22,527.57 239.40,528.90 Z" fill="#fff" stroke="#111" stroke-width="1.38" stroke-linejoin="round" />
<path d="M241.80,530.50 C241.30,531.83 239.17,535.75 238.80,538.50 C238.43,541.25 238.87,544.65 239.60,547.00 C240.33,549.35 241.72,551.17 243.20,552.60 C244.68,554.03 246.62,554.60 248.50,555.60 C250.38,556.60 253.50,558.10 254.50,558.60" fill="none" stroke="#111" stroke-width="1.03" stroke-linejoin="round" />
<path d="M240.00,533.00 C240.88,531.95 244.72,530.00 246.00,530.00 C247.28,530.00 250.18,531.83 251.00,533.00 C251.82,534.17 252.82,538.25 253.00,540.00 C253.18,541.75 252.97,546.48 252.50,548.00 C252.03,549.52 250.11,552.53 249.00,553.00 C247.89,553.47 244.17,552.82 243.00,552.00 C241.83,551.18 239.53,547.52 239.00,546.00 C238.47,544.48 238.38,540.52 238.50,539.00 C238.62,537.48 239.12,534.05 240.00,533.00 Z" fill="#6a6a6a" stroke="#111" stroke-width="0.92" stroke-linejoin="round" />
<path d="M241,536 l4,-2 l1.5,2.5 l-4,2 z M246.5,541 l4,-1.5 l1,2.6 l-4,1.5 z M240.5,545 l3.5,-1 l1,2.4 l-3.5,1 z M245,548 l3,-1 l0.8,2 l-3,1 z M248,534.5 l2,-0.8 l0.7,1.8 l-2,0.8 z" fill="#fff" stroke="#111" stroke-width="0.69" stroke-linejoin="round" />
<path d="M252,515.5 L259.5,511.8 L268.5,512.2 L272.5,516.8 L265.5,521.5 L256,521.8 Z" fill="#bbb" stroke="#111" stroke-width="1.38" stroke-linejoin="round" />
<path d="M257,514 L265,513.5 M256,518 L266,517.5 M263,512.5 L262,521" fill="none" stroke="#111" stroke-width="1.03" stroke-linejoin="round" />
<path d="M267.5,523 L280.5,524.8 L280.7,528.1 L272.5,532.8 L265,530 Z" fill="#ccc" stroke="#111" stroke-width="1.38" stroke-linejoin="round" />
<path d="M270,525.5 L278,526.5 M268.5,528.5 L276,529.5 M273,523.5 L271,531" fill="none" stroke="#111" stroke-width="1.03" stroke-linejoin="round" />
<path d="M250.5,526.5 L259,522.5 L265.5,528.5 L258.5,535.5 L252,533.5 Z" fill="#fff" stroke="#111" stroke-width="1.26" stroke-linejoin="round" />
<path d="M253,528.5 L261,530 M255,524.5 L256,534" fill="none" stroke="#111" stroke-width="0.92" stroke-linejoin="round" />
<path d="M246.5,545 L255,541.5 L258.2,551 L256.5,557.8 L248.5,555.5 Z" fill="#bbb" stroke="#111" stroke-width="1.38" stroke-linejoin="round" />
<path d="M249,548 L256,545.5 M251,543.5 L252.5,556" fill="none" stroke="#111" stroke-width="1.03" stroke-linejoin="round" />
<path d="M239.5,536 L247,531.5 L251.5,539 L244.5,544 Z" fill="#999" stroke="#111" stroke-width="1.38" stroke-linejoin="round" />
<path d="M241,539.5 L248.5,535.5" fill="none" stroke="#111" stroke-width="1.03" stroke-linejoin="round" />
<path d="M262,536 L268,534 L266,541 L261,543 Z" fill="#fff" stroke="#111" stroke-width="1.15" stroke-linejoin="round" />
<path d="M240.5,544.5 l3,-1 l1.5,3 l-3,1.2 z M244,550 l2.5,-0.8 l1,2.4 l-2.6,0.8 z M247.5,537 l2,-1 l1,2 l-2,1 z M257,538 l2,-1.5 l1.5,2 l-2,1.4 z M253,544 l2,-0.5 l0.5,2 l-2,0.5 z M238.5,541.5 l1.6,-0.5 l0.4,2 l-1.6,0.5 z M242.5,553.5 l2,-0.5 l0.6,1.8 l-2,0.5 z" fill="#111" stroke="#111" stroke-width="0.69" stroke-linejoin="round" />
<path d="M260,548 l5,-4 M263.5,525 l3,3 M248,532 l-2,3 M240,533 l2,2" fill="none" stroke="#111" stroke-width="1.38" stroke-linejoin="round" />
<path d="M258,516 l4,-2 l2,3 l-4,2 z M270,526 l3,-1 l1,2.5 l-3,1 z M262,527 l3,-1.5 l1.5,2 l-3,1.5 z" fill="#222" stroke="#111" stroke-width="0.69" stroke-linejoin="round" />
<path d="M235.3,525.2 L244.4,512.8 L251,517.4 L257.6,524 L252.6,532.2 Z" fill="#fff" stroke="#111" stroke-width="1.26" stroke-linejoin="round" />
<path d="M252.90,494.80 C252.70,496.45 252.77,501.75 251.70,504.70 C250.63,507.65 247.65,510.03 246.50,512.50 C245.35,514.97 244.77,517.50 244.80,519.50 C244.83,521.50 245.75,523.42 246.70,524.50 C247.65,525.58 249.87,525.75 250.50,526.00" fill="none" stroke="#111" stroke-width="1.26" stroke-linejoin="round" />
<path d="M259.10,494.80 C258.92,496.58 259.08,502.70 258.00,505.50 C256.92,508.30 254.02,509.52 252.60,511.60 C251.18,513.68 249.77,516.02 249.50,518.00 C249.23,519.98 250.75,522.58 251.00,523.50" fill="none" stroke="#111" stroke-width="1.26" stroke-linejoin="round" />
<path d="M247.30,483.70 C247.54,482.22 249.16,478.41 250.40,477.50 C251.64,476.59 255.36,476.41 256.60,476.90 C257.84,477.39 259.37,479.64 259.70,481.20 C260.03,482.76 259.51,487.12 259.10,488.60 C258.69,490.08 257.43,491.81 256.60,492.30 C255.77,492.79 253.97,492.79 252.90,492.30 C251.83,491.81 249.35,489.75 248.60,488.60 C247.85,487.45 247.06,485.18 247.30,483.70 Z" fill="#fff" stroke="#111" stroke-width="1.38" stroke-linejoin="round" />
<g transform="translate(253.50,484.30) rotate(20.00)" ><ellipse cx="0" cy="0" rx="2.3" ry="3.3" fill="none" stroke="#111" stroke-width="1.26"/></g>
<path d="M251.5,491.8 L259.3,491.3 L259.3,495.5 L252,495.8 Z" fill="#fff" stroke="#111" stroke-width="1.15" stroke-linejoin="round" />
<g transform="translate(50.50,440.00) rotate(29.70)" ><path d="M0,-2.1 L109,-2.1 L109,2.1 L0,2.1" fill="#fff" stroke="#111" stroke-width="1.32"/><line x1="75" y1="-2.1" x2="76.2" y2="2.1" stroke="#111" stroke-width="0.86"/><line x1="77" y1="-2.1" x2="78.2" y2="2.1" stroke="#111" stroke-width="0.86"/><line x1="79" y1="-2.1" x2="80.2" y2="2.1" stroke="#111" stroke-width="0.86"/><line x1="81" y1="-2.1" x2="82.2" y2="2.1" stroke="#111" stroke-width="0.86"/><line x1="83" y1="-2.1" x2="84.2" y2="2.1" stroke="#111" stroke-width="0.86"/><line x1="85" y1="-2.1" x2="86.2" y2="2.1" stroke="#111" stroke-width="0.86"/><line x1="87" y1="-2.1" x2="88.2" y2="2.1" stroke="#111" stroke-width="0.86"/><line x1="89" y1="-2.1" x2="90.2" y2="2.1" stroke="#111" stroke-width="0.86"/><line x1="91" y1="-2.1" x2="92.2" y2="2.1" stroke="#111" stroke-width="0.86"/><line x1="93" y1="-2.1" x2="94.2" y2="2.1" stroke="#111" stroke-width="0.86"/><line x1="95" y1="-2.1" x2="96.2" y2="2.1" stroke="#111" stroke-width="0.86"/><line x1="97" y1="-2.1" x2="98.2" y2="2.1" stroke="#111" stroke-width="0.86"/><line x1="99" y1="-2.1" x2="100.2" y2="2.1" stroke="#111" stroke-width="0.86"/><line x1="101" y1="-2.1" x2="102.2" y2="2.1" stroke="#111" stroke-width="0.86"/><line x1="103" y1="-2.1" x2="104.2" y2="2.1" stroke="#111" stroke-width="0.86"/><line x1="105" y1="-2.1" x2="106.2" y2="2.1" stroke="#111" stroke-width="0.86"/><line x1="107" y1="-2.1" x2="108.2" y2="2.1" stroke="#111" stroke-width="0.86"/><path d="M109,-2.1 A1.1,2.1 0 0 1 109,2.1" fill="none" stroke="#111"/><g transform="translate(1,0)"><path d="M-3.5,-6.9 L0,-6.9 A4.0,6.9 0 0 1 0,6.9 L-3.5,6.9 A4.0,6.9 0 0 1 -3.5,-6.9 Z" fill="#fff" stroke="#111" stroke-width="1.49"/><ellipse cx="0" cy="0" rx="4.0" ry="6.9" fill="#fff" stroke="#111" stroke-width="1.49"/></g><polygon points="4.51,1.92 2.06,5.51 -0.95,3.60 -1.51,-1.92 0.94,-5.51 3.95,-3.60" fill="#fff" stroke="#111" stroke-width="1.26"/><ellipse cx="2.8" cy="0" rx="1.4" ry="2.3" fill="#fff" stroke="#111" stroke-width="1.26"/></g>
<g transform="translate(131.40,445.00) rotate(29.00)" ><path d="M0,-2.1 L14.5,-2.1 L14.5,2.1 L0,2.1" fill="#fff" stroke="#111" stroke-width="1.15"/><line x1="5" y1="-2.1" x2="6" y2="2.1" stroke="#111" stroke-width="0.86"/><line x1="7" y1="-2.1" x2="8" y2="2.1" stroke="#111" stroke-width="0.86"/><line x1="9" y1="-2.1" x2="10" y2="2.1" stroke="#111" stroke-width="0.86"/><line x1="11" y1="-2.1" x2="12" y2="2.1" stroke="#111" stroke-width="0.86"/><line x1="13" y1="-2.1" x2="14" y2="2.1" stroke="#111" stroke-width="0.86"/><path d="M-2,-5.6 L0,-5.6 A3.0,5.6 0 0 1 0,5.6 L-2,5.6 A3.0,5.6 0 0 1 -2,-5.6 Z" fill="#fff" stroke="#111" stroke-width="1.38"/><ellipse cx="0" cy="0" rx="3.0" ry="5.6" fill="#fff" stroke="#111" stroke-width="1.38"/><ellipse cx="0" cy="0" rx="1.7" ry="3.4" fill="none" stroke="#111" stroke-width="1.15"/></g>
<g transform="translate(572.50,488.30) rotate(29.00)" ><path d="M0,-3.4 L39,-3.4 L39,3.4 L0,3.4 A1.8,3.4 0 0 1 0,-3.4 Z" fill="#fff" stroke="#111" stroke-width="1.26"/><line x1="2" y1="-3.4" x2="3.2" y2="3.4" stroke="#111" stroke-width="0.92"/><line x1="4" y1="-3.4" x2="5.2" y2="3.4" stroke="#111" stroke-width="0.92"/><line x1="6" y1="-3.4" x2="7.2" y2="3.4" stroke="#111" stroke-width="0.92"/><line x1="8" y1="-3.4" x2="9.2" y2="3.4" stroke="#111" stroke-width="0.92"/><line x1="10" y1="-3.4" x2="11.2" y2="3.4" stroke="#111" stroke-width="0.92"/><line x1="12" y1="-3.4" x2="13.2" y2="3.4" stroke="#111" stroke-width="0.92"/><line x1="14" y1="-3.4" x2="15.2" y2="3.4" stroke="#111" stroke-width="0.92"/><line x1="16" y1="-3.4" x2="17.2" y2="3.4" stroke="#111" stroke-width="0.92"/><g transform="translate(41,0)"><path d="M-2.2,-8.6 L0,-8.6 A5.0,8.6 0 0 1 0,8.6 L-2.2,8.6 A5.0,8.6 0 0 1 -2.2,-8.6 Z" fill="#fff" stroke="#111" stroke-width="1.38"/><ellipse cx="0" cy="0" rx="5.0" ry="8.6" fill="#fff" stroke="#111" stroke-width="1.38"/><g transform="translate(5,0)"><polygon points="0.77,1.71 -1.99,6.38 -5.76,4.67 -6.77,-1.71 -4.01,-6.38 -0.24,-4.67" fill="#fff" stroke="#111" stroke-width="1.26"/><polygon points="3.77,1.71 1.01,6.38 -2.76,4.67 -3.77,-1.71 -1.01,-6.38 2.76,-4.67" fill="#fff" stroke="#111" stroke-width="1.38"/><line x1="0.77" y1="1.71" x2="3.77" y2="1.71" stroke="#111" stroke-width="1.15"/><line x1="-1.99" y1="6.38" x2="1.01" y2="6.38" stroke="#111" stroke-width="1.15"/><line x1="-0.24" y1="-4.67" x2="2.76" y2="-4.67" stroke="#111" stroke-width="1.15"/><ellipse cx="0" cy="0" rx="2.3" ry="3.8" fill="none" stroke="#111" stroke-width="1.15"/></g></g></g>
<g transform="translate(531.30,268.40) rotate(28.00)" ><path d="M0,-1.8 L14.5,-1.8 L14.5,1.8 L0,1.8 A0.9,1.8 0 0 1 0,-1.8 Z" fill="#fff" stroke="#111" stroke-width="1.21"/><g transform="translate(15.2,0)"><path d="M-1.2,-2.6 L0,-2.6 A1.5,2.6 0 0 1 0,2.6 L-1.2,2.6 A1.5,2.6 0 0 1 -1.2,-2.6 Z" fill="#fff" stroke="#111" stroke-width="1.26"/><ellipse cx="0" cy="0" rx="1.5" ry="2.6" fill="#fff" stroke="#111" stroke-width="1.26"/><ellipse cx="0" cy="0" rx="0.8" ry="1.5" fill="none" stroke="#111" stroke-width="0.92"/></g><line x1="1" y1="-1.8" x2="2" y2="1.8" stroke="#111" stroke-width="0.69"/><line x1="3" y1="-1.8" x2="4" y2="1.8" stroke="#111" stroke-width="0.69"/><line x1="5" y1="-1.8" x2="6" y2="1.8" stroke="#111" stroke-width="0.69"/></g>
<g>
<g opacity="0.999">
<g transform="translate(294.15,27.20) scale(1.0,1.08)"><text x="0" y="0">36100A</text><rect x="18.11" y="-2.0" width="3.67" height="2.8" fill="#fff"/><rect x="23.27" y="-2.0" width="3.27" height="2.8" fill="#fff"/></g>
<g transform="translate(240.15,117.20) scale(1.0,1.08)"><text x="0" y="0">36127</text><rect x="18.11" y="-2.0" width="3.67" height="2.8" fill="#fff"/><rect x="23.27" y="-2.0" width="3.27" height="2.8" fill="#fff"/></g>
<g transform="translate(240.15,134.00) scale(1.0,1.08)"><text x="0" y="0">36127A</text><rect x="18.11" y="-2.0" width="3.67" height="2.8" fill="#fff"/><rect x="23.27" y="-2.0" width="3.27" height="2.8" fill="#fff"/></g>
<g transform="translate(303.15,143.00) scale(1.0,1.08)"><text x="0" y="0">36120</text><rect x="18.11" y="-2.0" width="3.67" height="2.8" fill="#fff"/><rect x="23.27" y="-2.0" width="3.27" height="2.8" fill="#fff"/></g>
<g transform="translate(384.45,148.20) scale(1.0,1.08)"><text x="0" y="0">36130</text><rect x="18.11" y="-2.0" width="3.67" height="2.8" fill="#fff"/><rect x="23.27" y="-2.0" width="3.27" height="2.8" fill="#fff"/></g>
<g transform="translate(354.35,196.60) scale(1.0,1.08)"><text x="0" y="0">36135A</text><rect x="18.11" y="-2.0" width="3.67" height="2.8" fill="#fff"/><rect x="23.27" y="-2.0" width="3.27" height="2.8" fill="#fff"/></g>
<g transform="translate(407.55,217.10) scale(1.0,1.08)"><text x="0" y="0">36131A</text><rect x="18.11" y="-2.0" width="3.67" height="2.8" fill="#fff"/><rect x="23.27" y="-2.0" width="3.27" height="2.8" fill="#fff"/><rect x="35.91" y="-2.0" width="3.67" height="2.8" fill="#fff"/><rect x="41.07" y="-2.0" width="3.27" height="2.8" fill="#fff"/></g>
<g transform="translate(189.55,196.10) scale(1.0,1.08)"><text x="0" y="0">36141K</text><rect x="18.11" y="-2.0" width="3.67" height="2.8" fill="#fff"/><rect x="23.27" y="-2.0" width="3.27" height="2.8" fill="#fff"/><rect x="35.91" y="-2.0" width="3.67" height="2.8" fill="#fff"/><rect x="41.07" y="-2.0" width="3.27" height="2.8" fill="#fff"/></g>
<g transform="translate(104.65,252.10) scale(1.0,1.08)"><text x="0" y="0">36139</text><rect x="18.11" y="-2.0" width="3.67" height="2.8" fill="#fff"/><rect x="23.27" y="-2.0" width="3.27" height="2.8" fill="#fff"/></g>
<g transform="translate(150.45,282.40) scale(1.0,1.08)"><text x="0" y="0">36141K</text><rect x="18.11" y="-2.0" width="3.67" height="2.8" fill="#fff"/><rect x="23.27" y="-2.0" width="3.27" height="2.8" fill="#fff"/><rect x="35.91" y="-2.0" width="3.67" height="2.8" fill="#fff"/><rect x="41.07" y="-2.0" width="3.27" height="2.8" fill="#fff"/></g>
<g transform="translate(187.55,305.30) scale(1.0,1.08)"><text x="0" y="0">36141K</text><rect x="18.11" y="-2.0" width="3.67" height="2.8" fill="#fff"/><rect x="23.27" y="-2.0" width="3.27" height="2.8" fill="#fff"/><rect x="35.91" y="-2.0" width="3.67" height="2.8" fill="#fff"/><rect x="41.07" y="-2.0" width="3.27" height="2.8" fill="#fff"/></g>
<g transform="translate(517.35,251.40) scale(1.0,1.08)"><text x="0" y="0">36199</text><rect x="18.11" y="-2.0" width="3.67" height="2.8" fill="#fff"/><rect x="23.27" y="-2.0" width="3.27" height="2.8" fill="#fff"/></g>
<g transform="translate(231.45,343.90) scale(1.0,1.08)"><text x="0" y="0">36137B</text><rect x="18.11" y="-2.0" width="3.67" height="2.8" fill="#fff"/><rect x="23.27" y="-2.0" width="3.27" height="2.8" fill="#fff"/></g>
<g transform="translate(297.85,351.00) scale(1.0,1.08)"><text x="0" y="0">36143A</text><rect x="18.11" y="-2.0" width="3.67" height="2.8" fill="#fff"/><rect x="23.27" y="-2.0" width="3.27" height="2.8" fill="#fff"/></g>
<g transform="translate(264.75,387.60) scale(1.0,1.08)"><text x="0" y="0">36139A</text><rect x="18.11" y="-2.0" width="3.67" height="2.8" fill="#fff"/><rect x="23.27" y="-2.0" width="3.27" height="2.8" fill="#fff"/></g>
<g transform="translate(264.75,404.10) scale(1.0,1.08)"><text x="0" y="0">36139B</text><rect x="18.11" y="-2.0" width="3.67" height="2.8" fill="#fff"/><rect x="23.27" y="-2.0" width="3.27" height="2.8" fill="#fff"/></g>
<g transform="translate(379.45,388.20) scale(1.0,1.08)"><text x="0" y="0">36137A</text><rect x="18.11" y="-2.0" width="3.67" height="2.8" fill="#fff"/><rect x="23.27" y="-2.0" width="3.27" height="2.8" fill="#fff"/></g>
<g transform="translate(342.45,405.80) scale(1.0,1.08)"><text x="0" y="0">36138B</text><rect x="18.11" y="-2.0" width="3.67" height="2.8" fill="#fff"/><rect x="23.27" y="-2.0" width="3.27" height="2.8" fill="#fff"/></g>
<g transform="translate(453.15,425.90) scale(1.0,1.08)"><text x="0" y="0">36110</text><rect x="18.11" y="-2.0" width="3.67" height="2.8" fill="#fff"/><rect x="23.27" y="-2.0" width="3.27" height="2.8" fill="#fff"/><rect x="25.84" y="-2.0" width="3.67" height="2.8" fill="#fff"/><rect x="31.00" y="-2.0" width="3.27" height="2.8" fill="#fff"/></g>
<g transform="translate(365.35,443.20) scale(1.0,1.08)"><text x="0" y="0">36102</text><rect x="18.11" y="-2.0" width="3.67" height="2.8" fill="#fff"/><rect x="23.27" y="-2.0" width="3.27" height="2.8" fill="#fff"/></g>
<g transform="translate(106.25,417.30) scale(1.0,1.08)"><text x="0" y="0">36183</text><rect x="18.11" y="-2.0" width="3.67" height="2.8" fill="#fff"/><rect x="23.27" y="-2.0" width="3.27" height="2.8" fill="#fff"/></g>
<g transform="translate(298.25,486.20) scale(1.0,1.08)"><text x="0" y="0">36140E</text><rect x="18.11" y="-2.0" width="3.67" height="2.8" fill="#fff"/><rect x="23.27" y="-2.0" width="3.27" height="2.8" fill="#fff"/></g>
<g transform="translate(61.25,505.00) scale(1.0,1.08)"><text x="0" y="0">36181B</text><rect x="18.11" y="-2.0" width="3.67" height="2.8" fill="#fff"/><rect x="23.27" y="-2.0" width="3.27" height="2.8" fill="#fff"/><rect x="35.91" y="-2.0" width="3.67" height="2.8" fill="#fff"/><rect x="41.07" y="-2.0" width="3.27" height="2.8" fill="#fff"/></g>
<g transform="translate(562.25,548.10) scale(1.0,1.08)"><text x="0" y="0">1140AC</text><rect x="0.31" y="-2.0" width="3.67" height="2.8" fill="#fff"/><rect x="5.48" y="-2.0" width="3.27" height="2.8" fill="#fff"/><rect x="8.04" y="-2.0" width="3.67" height="2.8" fill="#fff"/><rect x="13.20" y="-2.0" width="3.27" height="2.8" fill="#fff"/></g>
<g transform="translate(562.25,562.80) scale(1.0,1.08)"><text x="0" y="0">1140HM</text><rect x="0.31" y="-2.0" width="3.67" height="2.8" fill="#fff"/><rect x="5.48" y="-2.0" width="3.27" height="2.8" fill="#fff"/><rect x="8.04" y="-2.0" width="3.67" height="2.8" fill="#fff"/><rect x="13.20" y="-2.0" width="3.27" height="2.8" fill="#fff"/></g>
<g transform="translate(568.44,579.70) scale(1.02,1.15)"><text x="0" y="0">36211</text><rect x="27.01" y="-2.0" width="3.67" height="2.8" fill="#fff"/><rect x="32.17" y="-2.0" width="3.27" height="2.8" fill="#fff"/><rect x="34.73" y="-2.0" width="3.67" height="2.8" fill="#fff"/><rect x="39.90" y="-2.0" width="3.27" height="2.8" fill="#fff"/></g>
<g transform="translate(173.35,592.90) scale(1.0,1.08)"><text x="0" y="0">36170</text><rect x="18.11" y="-2.0" width="3.67" height="2.8" fill="#fff"/><rect x="23.27" y="-2.0" width="3.27" height="2.8" fill="#fff"/></g>
<g transform="translate(221.15,615.00) scale(1.0,1.08)"><text x="0" y="0">36170A</text><rect x="18.11" y="-2.0" width="3.67" height="2.8" fill="#fff"/><rect x="23.27" y="-2.0" width="3.27" height="2.8" fill="#fff"/></g>
<g transform="translate(288.15,650.00) scale(1.0,1.13)"><text x="0" y="0">36150</text><rect x="18.11" y="-2.0" width="3.67" height="2.8" fill="#fff"/><rect x="23.27" y="-2.0" width="3.27" height="2.8" fill="#fff"/></g>
<g transform="translate(353.45,688.70) scale(1.0,1.08)"><text x="0" y="0">36146A</text><rect x="18.11" y="-2.0" width="3.67" height="2.8" fill="#fff"/><rect x="23.27" y="-2.0" width="3.27" height="2.8" fill="#fff"/></g>
</g>
</g>
</svg></body></html>
